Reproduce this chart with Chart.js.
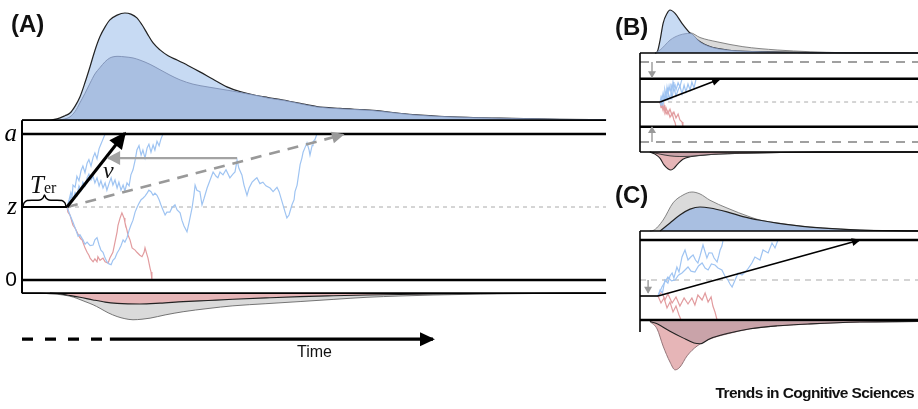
<!DOCTYPE html>
<html>
<head>
<meta charset="utf-8">
<script src="https://cdn.jsdelivr.net/npm/chart.js@4.4.1/dist/chart.umd.min.js"></script>
<style>
  body { margin: 0; background: #fff; width: 918px; height: 409px; overflow: hidden; position: relative; font-family: 'Liberation Sans', Arial, sans-serif; }
  canvas { position: absolute; }
  .txt { position: absolute; line-height: 1; color: #111; white-space: nowrap; }
  .panel { font-weight: bold; font-size: 24px; }
  .serif { font-family: 'Liberation Serif', 'Times New Roman', serif; font-style: italic; }
</style>
</head>
<body>
<canvas id="chartA" width="612" height="409" style="left:0;top:0"></canvas>
<canvas id="chartB" width="306" height="180" style="left:612px;top:0"></canvas>
<canvas id="chartC" width="306" height="229" style="left:612px;top:180px"></canvas>

<div class="txt panel" style="left:11px;top:12px">(A)</div>
<div class="txt panel" style="left:615px;top:15px">(B)</div>
<div class="txt panel" style="left:615px;top:183px">(C)</div>
<div class="txt serif" style="left:30px;top:172px;font-size:25px">T<span style="font-style:normal;font-size:16px">er</span></div>
<div class="txt serif" style="left:103px;top:158px;font-size:24px">v</div>
<div class="txt" style="left:297px;top:344px;font-size:16px">Time</div>
<div class="txt" style="right:4px;top:385px;font-size:15.5px;font-weight:bold;letter-spacing:-0.6px">Trends in Cognitive Sciences</div>

<script>
// ---------- Panel A: Zeit in s, Evidenz mit 0 .. a = 2 ----------
var boundsA = [0, 2];          // untere Schranke 0, obere Schranke a
var zA = 1;                    // Startpunkt z
var terA = 0.15;               // Non-decision time T_er
var boxA = [-0.18, 2.19];      // Rahmen um den Evidenzbereich
var timeArrowA = [-0.81, 0.277, 0.293, 1.37];   // Hoehe, Ende gestrichelt, Start / Spitze durchgezogen
var driftTipA = [0.343, 2.01];                  // Spitze Pfeil v
var dashedTipA = [1.07, 1.99];                  // Spitze gestrichelter Pfeil
var greyArrowA = [[0.717, 1.67], [0.287, 1.67]];
var braceA = [[0.003,1.0],[0.007,1.055],[0.017,1.089],[0.06,1.096],[0.07,1.123],[0.075,1.164],[0.08,1.123],[0.09,1.096],[0.133,1.089],[0.143,1.055],[0.147,1.0]];

// Verteilungen oben (korrekt) und unten (Fehler)
var upperOuterA = [[0,0],[0.093,0],[0.127,0.02],[0.143,0.04],[0.16,0.065],[0.177,0.13],[0.193,0.215],[0.21,0.35],[0.227,0.5],[0.243,0.65],[0.26,0.78],[0.277,0.87],[0.293,0.935],[0.317,0.98],[0.343,1.0],[0.363,0.99],[0.383,0.955],[0.4,0.89],[0.417,0.81],[0.437,0.72],[0.46,0.655],[0.487,0.6],[0.517,0.56],[0.553,0.51],[0.593,0.45],[0.637,0.38],[0.683,0.31],[0.727,0.265],[0.77,0.235],[0.82,0.21],[0.87,0.187],[0.927,0.155],[0.983,0.125],[1.06,0.108],[1.17,0.09],[1.303,0.05],[1.427,0.03],[1.593,0.017],[1.793,0.007],[1.947,0.002]];
var upperInnerA = [[0.127,0],[0.143,0.01],[0.16,0.03],[0.177,0.08],[0.193,0.16],[0.21,0.25],[0.227,0.345],[0.243,0.43],[0.26,0.49],[0.277,0.545],[0.293,0.58],[0.32,0.595],[0.343,0.59],[0.37,0.58],[0.393,0.56],[0.427,0.52],[0.46,0.47],[0.493,0.42],[0.527,0.375],[0.57,0.335],[0.617,0.31],[0.66,0.29],[0.703,0.27],[0.75,0.245],[0.793,0.222],[0.82,0.205],[0.87,0.184],[0.927,0.152],[0.983,0.122],[1.06,0.105],[1.17,0.088],[1.303,0.048],[1.427,0.029],[1.593,0.016],[1.793,0.006],[1.947,0.002]];
var lowerGreyA = [[0,0],[0.06,0],[0.093,0.008],[0.127,0.015],[0.16,0.03],[0.183,0.05],[0.21,0.08],[0.237,0.11],[0.26,0.143],[0.287,0.185],[0.317,0.22],[0.343,0.24],[0.37,0.25],[0.4,0.245],[0.427,0.235],[0.477,0.205],[0.537,0.175],[0.62,0.145],[0.703,0.12],[0.813,0.1],[0.927,0.08],[1.037,0.06],[1.15,0.04],[1.26,0.028],[1.37,0.019],[1.527,0.01],[1.727,0.004],[1.947,0]];
var lowerRedA = [[0.093,0],[0.127,0.008],[0.15,0.019],[0.193,0.04],[0.237,0.065],[0.277,0.085],[0.317,0.097],[0.353,0.102],[0.393,0.103],[0.46,0.095],[0.537,0.081],[0.62,0.07],[0.703,0.059],[0.813,0.046],[0.927,0.034],[1.037,0.026],[1.15,0.019],[1.37,0.01],[1.593,0.004],[1.947,0]];

// Einzelne Random Walks
var walkA1 = [[0.15,1.0],[0.157,1.1],[0.163,1.2],[0.167,1.14],[0.17,1.3],[0.177,1.27],[0.183,1.42],[0.19,1.36],[0.197,1.5],[0.203,1.56],[0.21,1.47],[0.217,1.6],[0.223,1.65],[0.23,1.56],[0.237,1.68],[0.243,1.74],[0.25,1.66],[0.257,1.8],[0.263,1.86],[0.27,1.93],[0.277,2.0]];
var walkA2 = [[0.15,1.0],[0.157,1.05],[0.163,1.15],[0.17,1.1],[0.177,1.2],[0.183,1.16],[0.19,1.29],[0.197,1.23],[0.203,1.34],[0.21,1.29],[0.217,1.4],[0.223,1.45],[0.23,1.37],[0.237,1.42],[0.243,1.33],[0.25,1.4],[0.257,1.29],[0.263,1.36],[0.27,1.26],[0.277,1.33],[0.283,1.23],[0.29,1.32],[0.297,1.4],[0.303,1.3],[0.31,1.37],[0.317,1.26],[0.323,1.34],[0.33,1.23],[0.337,1.3],[0.343,1.22],[0.35,1.33],[0.357,1.29],[0.363,1.44],[0.37,1.51],[0.377,1.64],[0.383,1.78],[0.39,1.84],[0.397,1.71],[0.403,1.78],[0.41,1.67],[0.417,1.81],[0.423,1.86],[0.43,1.75],[0.437,1.85],[0.443,1.78],[0.45,1.9],[0.457,1.84],[0.463,1.93],[0.47,2.0]];
var walkA3 = [[0.15,1.0],[0.16,0.89],[0.17,0.79],[0.18,0.68],[0.187,0.6],[0.193,0.62],[0.203,0.55],[0.21,0.49],[0.217,0.52],[0.227,0.47],[0.237,0.48],[0.243,0.55],[0.25,0.58],[0.257,0.48],[0.263,0.41],[0.27,0.38],[0.277,0.3],[0.283,0.25],[0.29,0.22],[0.297,0.21],[0.303,0.27],[0.31,0.3],[0.317,0.37],[0.323,0.41],[0.33,0.47],[0.337,0.55],[0.343,0.52],[0.35,0.58],[0.357,0.68],[0.363,0.75],[0.37,0.82],[0.377,0.93],[0.383,0.99],[0.39,1.05],[0.397,1.1],[0.403,1.12],[0.41,1.15],[0.417,1.19],[0.423,1.23],[0.43,1.21],[0.437,1.16],[0.443,1.19],[0.45,1.16],[0.457,1.1],[0.463,1.03],[0.47,0.96],[0.477,0.89],[0.483,0.93],[0.493,0.93],[0.5,0.99],[0.51,1.03],[0.517,0.96],[0.527,0.92],[0.533,0.82],[0.54,0.74],[0.55,0.66],[0.557,0.79],[0.567,0.99],[0.573,1.16],[0.577,1.3],[0.583,1.23],[0.593,1.21],[0.6,1.03],[0.607,1.12],[0.617,1.26],[0.627,1.37],[0.637,1.48],[0.647,1.42],[0.653,1.4],[0.66,1.48],[0.67,1.44],[0.68,1.51],[0.693,1.4],[0.703,1.45],[0.71,1.48],[0.717,1.64],[0.723,1.53],[0.733,1.44],[0.74,1.3],[0.75,1.16],[0.757,1.26],[0.767,1.34],[0.777,1.38],[0.783,1.4],[0.793,1.32],[0.803,1.34],[0.813,1.29],[0.827,1.26],[0.837,1.21],[0.85,1.27],[0.857,1.21],[0.867,1.07],[0.877,0.93],[0.883,0.85],[0.89,0.89],[0.9,1.03],[0.907,1.1],[0.91,1.21],[0.917,1.3],[0.927,1.58],[0.933,1.67],[0.937,1.75],[0.943,1.81],[0.95,1.88],[0.957,1.78],[0.96,1.71],[0.967,1.84],[0.97,1.89],[0.977,1.93],[0.983,2.0]];
var walkRedA = [[0.15,1.0],[0.153,0.93],[0.16,0.89],[0.167,0.79],[0.17,0.75],[0.177,0.71],[0.183,0.66],[0.19,0.6],[0.193,0.58],[0.2,0.55],[0.203,0.52],[0.21,0.44],[0.217,0.38],[0.223,0.34],[0.227,0.3],[0.233,0.27],[0.237,0.25],[0.243,0.29],[0.25,0.25],[0.253,0.32],[0.26,0.27],[0.27,0.3],[0.277,0.25],[0.287,0.23],[0.293,0.3],[0.303,0.38],[0.31,0.52],[0.317,0.66],[0.32,0.75],[0.327,0.85],[0.333,0.92],[0.34,0.85],[0.343,0.79],[0.35,0.68],[0.353,0.62],[0.36,0.55],[0.367,0.44],[0.377,0.41],[0.383,0.38],[0.393,0.34],[0.4,0.32],[0.407,0.38],[0.41,0.44],[0.417,0.34],[0.42,0.3],[0.427,0.16],[0.43,0.11],[0.433,0.0]];

// ---------- Panel B: engere Schranken ----------
var oldBoundsB = [0, 2];
var boundsB = [0.38, 1.58];
var zB = 1;
var terB = 0.067;
var boxB = [-0.25, 2.225];
var driftTipB = [0.267, 1.575];
var shiftArrowsB = [[0.04, 2, 1.62], [0.04, 0, 0.375]];   // Zeit, von, bis
var upperBlueB = [[0.05,0],[0.057,0.02],[0.067,0.3],[0.077,0.69],[0.09,0.92],[0.1,1.0],[0.117,0.92],[0.14,0.69],[0.167,0.46],[0.2,0.26],[0.233,0.147],[0.29,0.07],[0.4,0.03],[0.567,0.007],[0.927,0]];
var upperGreyB = [[0.05,0],[0.067,0.05],[0.1,0.3],[0.133,0.43],[0.167,0.47],[0.2,0.36],[0.257,0.26],[0.343,0.147],[0.457,0.07],[0.567,0.03],[0.677,0.007],[0.927,0]];
var upperInnerB = [[0.05,0],[0.067,0.07],[0.083,0.18],[0.1,0.3],[0.133,0.42],[0.167,0.455],[0.2,0.255],[0.233,0.145],[0.29,0.068],[0.4,0.029],[0.567,0.006],[0.927,0]];
var lowerRedB = [[0.033,0],[0.05,0.05],[0.067,0.15],[0.08,0.3],[0.093,0.39],[0.103,0.42],[0.113,0.38],[0.127,0.27],[0.143,0.17],[0.167,0.11],[0.2,0.08],[0.25,0.05],[0.333,0.03],[0.467,0.012],[0.6,0.004],[0.927,0]];
var lowerInnerB = [[0.033,0],[0.067,0.05],[0.1,0.09],[0.133,0.105],[0.167,0.1],[0.2,0.078],[0.25,0.05],[0.333,0.03],[0.467,0.012],[0.6,0.004],[0.927,0]];
var walkB1 = [[0.067,1.0],[0.07,1.12],[0.073,1.05],[0.077,1.22],[0.08,1.1],[0.083,1.3],[0.087,1.16],[0.09,1.36],[0.093,1.2],[0.097,1.4],[0.1,1.28],[0.103,1.46],[0.107,1.3],[0.11,1.5],[0.113,1.36],[0.117,1.42],[0.12,1.3],[0.127,1.48],[0.133,1.38],[0.14,1.58]];
var walkB2 = [[0.067,1.0],[0.07,0.92],[0.073,1.08],[0.077,0.96],[0.08,1.14],[0.083,1.02],[0.087,1.2],[0.09,1.05],[0.093,1.25],[0.1,1.08],[0.103,1.3],[0.107,1.12],[0.113,1.35],[0.12,1.15],[0.127,1.3],[0.133,1.4],[0.14,1.2],[0.147,1.42],[0.153,1.25],[0.16,1.45],[0.167,1.3],[0.173,1.5],[0.18,1.35],[0.187,1.58]];
var walkRedB1 = [[0.067,1.0],[0.07,0.86],[0.073,0.95],[0.077,0.8],[0.08,0.92],[0.083,0.75],[0.087,0.85],[0.093,0.7],[0.1,0.82],[0.107,0.66],[0.113,0.75],[0.12,0.6],[0.127,0.7],[0.133,0.55],[0.14,0.5],[0.143,0.38]];
var walkRedB2 = [[0.067,1.0],[0.07,0.9],[0.073,0.96],[0.077,0.82],[0.08,0.88],[0.087,0.7],[0.093,0.78],[0.1,0.62],[0.107,0.72],[0.113,0.55],[0.117,0.48],[0.12,0.38]];

// ---------- Panel C: verschobener Startpunkt ----------
var boundsC = [0, 2];
var zC = 1;
var startC = 0.6;
var terC = 0.06;
var boxTopC = 2.225;
var axisBottomC = -0.3;
var driftTipC = [0.733, 2.0];
var shiftArrowC = [0.027, 1.0, 0.68];
var upperGreyC = [[0.033,0],[0.043,0.01],[0.077,0.28],[0.11,0.72],[0.143,0.92],[0.173,1.0],[0.2,0.95],[0.233,0.79],[0.29,0.59],[0.367,0.36],[0.4,0.28],[0.457,0.205],[0.567,0.1],[0.733,0.026],[0.9,0.003],[0.927,0]];
var upperBlueC = [[0.067,0],[0.1,0.205],[0.133,0.41],[0.167,0.56],[0.2,0.615],[0.233,0.59],[0.29,0.49],[0.343,0.37],[0.4,0.275],[0.457,0.2],[0.567,0.098],[0.733,0.025],[0.9,0.003],[0.927,0]];
var lowerRedC = [[0.033,0],[0.057,0.19],[0.077,0.63],[0.1,1.04],[0.117,1.24],[0.133,1.17],[0.157,0.88],[0.19,0.63],[0.233,0.45],[0.29,0.32],[0.367,0.19],[0.457,0.115],[0.567,0.064],[0.733,0.013],[0.927,0]];
var lowerInnerC = [[0.033,0],[0.057,0.06],[0.1,0.25],[0.143,0.42],[0.18,0.55],[0.2,0.57],[0.233,0.44],[0.29,0.31],[0.367,0.185],[0.457,0.11],[0.567,0.06],[0.733,0.012],[0.927,0]];
var walkC1 = [[0.06,0.6],[0.067,0.75],[0.075,0.68],[0.083,1.0],[0.093,0.925],[0.1,1.1],[0.107,1.175],[0.113,1.05],[0.123,1.325],[0.13,1.2],[0.14,1.575],[0.15,1.75],[0.16,1.5],[0.17,1.58],[0.177,1.625],[0.185,1.5],[0.193,1.425],[0.2,1.6],[0.21,1.875],[0.217,1.7],[0.223,1.55],[0.23,1.68],[0.24,1.675],[0.247,1.55],[0.257,1.45],[0.263,1.62],[0.267,1.75],[0.273,1.85],[0.277,2.0]];
var walkC2 = [[0.06,0.6],[0.066,0.7],[0.073,0.825],[0.083,0.95],[0.093,1.075],[0.105,0.98],[0.117,1.0],[0.128,1.12],[0.14,1.175],[0.15,1.25],[0.16,1.325],[0.17,1.22],[0.183,1.2],[0.195,1.35],[0.207,1.425],[0.217,1.3],[0.227,1.25],[0.238,1.4],[0.25,1.375],[0.26,1.3],[0.273,1.25],[0.283,1.1],[0.293,1.0],[0.3,0.9],[0.307,0.825],[0.317,1.0],[0.327,1.175],[0.34,1.125],[0.357,1.25],[0.373,1.425],[0.383,1.575],[0.4,1.5],[0.41,1.75],[0.427,1.675],[0.44,1.925],[0.45,1.8],[0.46,2.0]];
var walkRedC1 = [[0.06,0.6],[0.07,0.425],[0.08,0.55],[0.09,0.3],[0.1,0.45],[0.11,0.2],[0.12,0.35],[0.13,0.125],[0.137,0.0]];
var walkRedC2 = [[0.06,0.6],[0.073,0.7],[0.083,0.5],[0.093,0.65],[0.107,0.425],[0.12,0.575],[0.133,0.35],[0.147,0.55],[0.16,0.4],[0.173,0.55],[0.183,0.375],[0.193,0.625],[0.207,0.5],[0.217,0.675],[0.227,0.45],[0.237,0.575],[0.243,0.35],[0.25,0.2],[0.257,0.0]];

// Farben
var lightBlue = '#c7daf3', midBlue = '#a9bfe1', greyFill = '#dadada', pink = '#e6b5b7', mauve = '#c9a3a9';
var walkBlue = '#9fc4f2', walkRed = '#e29c9f';

// Pfeilspitzen am letzten Punkt eines Datensatzes
var arrowHeads = {
  id: 'arrowHeads',
  afterDatasetsDraw: function(chart) {
    var ctx = chart.ctx;
    chart.data.datasets.forEach(function(d, i) {
      if (!d.head) return;
      var pts = chart.getDatasetMeta(i).data;
      var a = pts[pts.length - 2], b = pts[pts.length - 1];
      var ang = Math.atan2(b.y - a.y, b.x - a.x);
      ctx.save();
      ctx.translate(b.x, b.y);
      ctx.rotate(ang);
      ctx.beginPath();
      ctx.moveTo(d.borderWidth * 0.6, 0);
      ctx.lineTo(-d.head[0], -d.head[1]);
      ctx.lineTo(-d.head[0], d.head[1]);
      ctx.closePath();
      ctx.fillStyle = d.borderColor;
      ctx.fill();
      ctx.restore();
    });
  }
};

function ds(data, o) {
  return Object.assign({
    data: data, borderColor: '#000', borderWidth: 1, pointRadius: 0,
    fill: false, tension: 0, clip: false, yAxisID: 'yE'
  }, o || {});
}
function density(data, axis, fillColor, lineColor, lw) {
  return ds(data, { yAxisID: axis, fill: 'origin', backgroundColor: fillColor, borderColor: lineColor,
    borderWidth: lw, tension: 0.3, cubicInterpolationMode: 'monotone' });
}
function hLine(level, from, to, o) { return ds([[from, level], [to, level]], o); }
function vLine(t, from, to, o) { return ds([[t, from], [t, to]], o); }
function walk(data, color) { return ds(data, { borderColor: color, borderWidth: 1.2 }); }

// Achse: Pixel der Null, Pixel pro Einheit, Hoehe der Zeichenflaeche
function range(px0, ppu, h, reverse) {
  return reverse ? { min: -px0 / ppu, max: (h - px0) / ppu, reverse: true }
                 : { min: -(h - px0) / ppu, max: px0 / ppu };
}

function makeChart(id, list, xMax, h, yE, yTop, yBot, padding, labelled) {
  // spaetere Eintraege liegen oben
  list.forEach(function(d, i) { d.order = -i; });
  var yEvidence = Object.assign({ type: 'linear', display: false }, range(yE[0], yE[1], h));
  if (labelled) {
    Object.assign(yEvidence, {
      display: true, position: 'left',
      grid: { display: false, drawTicks: false }, border: { display: false },
      afterFit: function(s) { s.width = 22; s.paddingTop = 0; s.paddingBottom = 0; },
      afterBuildTicks: function(s) { s.ticks = [boundsA[0], zA, boundsA[1]].map(function(v) { return { value: v }; }); },
      ticks: {
        padding: 5, color: '#000',
        callback: function(v) { return v === boundsA[0] ? '0' : (v === zA ? 'z' : 'a'); },
        font: function(c) {
          return c.tick && c.tick.value === boundsA[0]
            ? { family: "'Liberation Sans', Arial, sans-serif", size: 21 }
            : { family: "'Liberation Serif', 'Times New Roman', serif", style: 'italic', size: 25 };
        }
      }
    });
  }
  return new Chart(document.getElementById(id), {
    type: 'line',
    data: { datasets: list },
    options: {
      responsive: false, animation: false, events: [],
      layout: { padding: padding },
      plugins: { legend: { display: false }, tooltip: { enabled: false } },
      scales: {
        x: { type: 'linear', min: 0, max: xMax, display: false },
        yE: yEvidence,
        yTop: Object.assign({ type: 'linear', display: false }, range(yTop[0], yTop[1], h)),
        yBot: Object.assign({ type: 'linear', display: false }, range(yBot[0], yBot[1], h, true))
      }
    },
    plugins: [arrowHeads]
  });
}

// ---------- Panel A ----------
var endA = 584 / 300;
makeChart('chartA', [
  density(upperOuterA, 'yTop', lightBlue, '#222', 1.2),
  density(upperInnerA, 'yTop', midBlue, '#7d8fb3', 0.9),
  density(lowerGreyA, 'yBot', greyFill, '#666', 0.9),
  density(lowerRedA, 'yBot', pink, '#222', 1.1),
  hLine(boxA[1], 0, endA, { borderWidth: 1.6 }),
  hLine(boxA[0], 0, endA, { borderWidth: 1.6 }),
  hLine(zA, terA, endA, { borderColor: '#aaa', borderWidth: 1, borderDash: [4, 4] }),
  walk(walkRedA, walkRed),
  walk(walkA3, walkBlue),
  walk(walkA2, walkBlue),
  walk(walkA1, walkBlue),
  hLine(boundsA[1], 0, endA, { borderWidth: 2.6 }),
  hLine(boundsA[0], 0, endA, { borderWidth: 2.6 }),
  vLine(0, boxA[0], boxA[1], { borderWidth: 2 }),
  ds([[terA, zA], dashedTipA], { borderColor: '#999', borderWidth: 2.6, borderDash: [11, 8], head: [11, 6] }),
  ds(greyArrowA, { borderColor: '#a3a3a3', borderWidth: 2.2, head: [12, 7] }),
  hLine(zA, 0, terA, { borderWidth: 2 }),
  ds(braceA, { borderWidth: 1.4, tension: 0.35 }),
  ds([[terA, zA], driftTipA], { borderWidth: 3, head: [15, 8] }),
  hLine(timeArrowA[0], 0, timeArrowA[1], { borderWidth: 3.2, borderDash: [11, 12] }),
  hLine(timeArrowA[0], timeArrowA[2], timeArrowA[3], { borderWidth: 3.2, head: [13, 7] })
], endA, 409, [280, 73], [120, 107], [293, 107], { left: 0, right: 6, top: 0, bottom: 0 }, true);

// ---------- Panel B ----------
var endB = 278 / 300;
makeChart('chartB', [
  density(upperGreyB, 'yTop', greyFill, '#777', 0.9),
  density(upperBlueB, 'yTop', lightBlue, '#222', 1.2),
  density(upperInnerB, 'yTop', midBlue, '#7d8fb3', 0.8),
  density(lowerRedB, 'yBot', pink, '#222', 1.1),
  density(lowerInnerB, 'yBot', mauve, '#333', 0.9),
  hLine(boxB[1], 0, endB, { borderWidth: 1.4 }),
  hLine(boxB[0], 0, endB, { borderWidth: 1.4 }),
  hLine(oldBoundsB[1], 0, endB, { borderColor: '#a0a0a0', borderWidth: 1.8, borderDash: [9, 7] }),
  hLine(oldBoundsB[0], 0, endB, { borderColor: '#a0a0a0', borderWidth: 1.8, borderDash: [9, 7] }),
  hLine(zB, terB, endB, { borderColor: '#aaa', borderWidth: 1, borderDash: [4, 4] }),
  walk(walkRedB1, walkRed),
  walk(walkRedB2, walkRed),
  walk(walkB1, walkBlue),
  walk(walkB2, walkBlue),
  hLine(boundsB[1], 0, endB, { borderWidth: 2.4 }),
  hLine(boundsB[0], 0, endB, { borderWidth: 2.4 }),
  vLine(0, boxB[0], boxB[1], { borderWidth: 1.6 }),
  vLine(shiftArrowsB[0][0], shiftArrowsB[0][1], shiftArrowsB[0][2], { borderColor: '#999', borderWidth: 1.4, head: [6, 4] }),
  vLine(shiftArrowsB[1][0], shiftArrowsB[1][1], shiftArrowsB[1][2], { borderColor: '#999', borderWidth: 1.4, head: [6, 4] }),
  hLine(zB, 0, terB, { borderWidth: 1.6 }),
  ds([[terB, zB], driftTipB], { borderWidth: 1.6, head: [8, 4] })
], endB, 180, [142, 40], [53, 43], [152, 43], { left: 28, right: 0, top: 0, bottom: 0 }, false);

// ---------- Panel C ----------
makeChart('chartC', [
  density(upperGreyC, 'yTop', greyFill, '#777', 0.9),
  density(upperBlueC, 'yTop', midBlue, '#222', 1.2),
  density(lowerRedC, 'yBot', pink, '#8a6a6e', 0.9),
  density(lowerInnerC, 'yBot', mauve, '#222', 1.1),
  hLine(boxTopC, 0, endB, { borderWidth: 1.4 }),
  hLine(zC, 0, endB, { borderColor: '#aaa', borderWidth: 1.2, borderDash: [6, 5] }),
  walk(walkRedC1, walkRed),
  walk(walkRedC2, walkRed),
  walk(walkC1, walkBlue),
  walk(walkC2, walkBlue),
  hLine(boundsC[1], 0, endB, { borderWidth: 2.4 }),
  hLine(boundsC[0], 0, endB, { borderWidth: 2.6 }),
  vLine(0, axisBottomC, boxTopC, { borderWidth: 1.6 }),
  vLine(shiftArrowC[0], shiftArrowC[1], shiftArrowC[2], { borderColor: '#999', borderWidth: 1.4, head: [6, 4] }),
  hLine(startC, 0, terC, { borderWidth: 1.6 }),
  ds([[terC, startC], driftTipC], { borderWidth: 1.6, head: [8, 4] })
], endB, 229, [140, 40], [51, 39], [141.5, 39], { left: 28, right: 0, top: 0, bottom: 0 }, false);
</script>
</body>
</html>
